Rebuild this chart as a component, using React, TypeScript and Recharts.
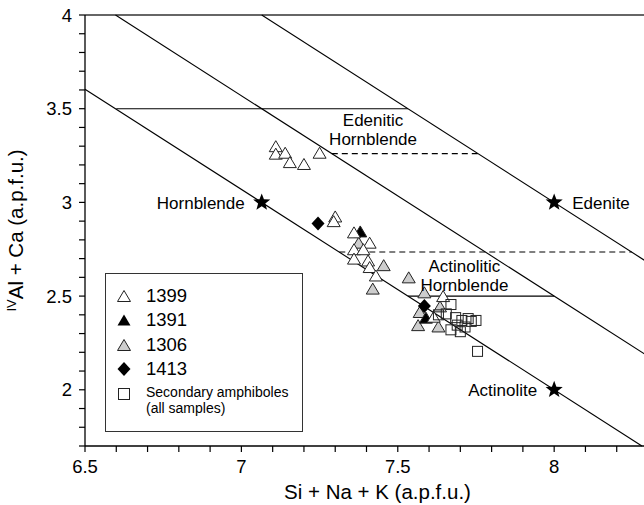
import React from 'react';
import {
  ScatterChart,
  Scatter,
  XAxis,
  YAxis,
  ReferenceLine,
  Legend,
} from 'recharts';

const FONT = '"Liberation Sans", Arial, Helvetica, sans-serif';

// axis ticks (minor every 0.1, labelled every 0.5)
const xTicks = [6.5, 6.6, 6.7, 6.8, 6.9, 7, 7.1, 7.2, 7.3, 7.4, 7.5, 7.6, 7.7, 7.8, 7.9, 8, 8.1, 8.2, 8.3];
const yTicks = [1.7, 1.8, 1.9, 2, 2.1, 2.2, 2.3, 2.4, 2.5, 2.6, 2.7, 2.8, 2.9, 3, 3.1, 3.2, 3.3, 3.4, 3.5, 3.6, 3.7, 3.8, 3.9, 4];

// sample 1399 (open triangles)
const s1399 = [
  [7.11, 3.3], [7.11, 3.26], [7.14, 3.265], [7.155, 3.215], [7.2, 3.205], [7.25, 3.265],
  [7.3, 2.925], [7.295, 2.9], [7.36, 2.84], [7.41, 2.785], [7.36, 2.75], [7.39, 2.75],
  [7.36, 2.7], [7.405, 2.69], [7.41, 2.655], [7.43, 2.61], [7.645, 2.5], [7.615, 2.39],
];
// sample 1391 (black triangles)
const s1391 = [[7.38, 2.845], [7.59, 2.385]];
// sample 1306 (grey triangles)
const s1306 = [
  [7.375, 2.785], [7.455, 2.665], [7.42, 2.54], [7.535, 2.6], [7.585, 2.52],
  [7.57, 2.415], [7.565, 2.345], [7.635, 2.445], [7.63, 2.338],
];
// sample 1413 (diamonds)
const s1413 = [[7.245, 2.887], [7.585, 2.447]];
// secondary amphiboles (squares)
const secondary = [
  [7.67, 2.455], [7.655, 2.405], [7.685, 2.385], [7.705, 2.37], [7.725, 2.38], [7.75, 2.37],
  [7.69, 2.345], [7.715, 2.335], [7.67, 2.32], [7.7, 2.31], [7.735, 2.365], [7.755, 2.205], [7.63, 2.4],
];

// end members
const endMembers = [
  { x: 7.065, y: 3.0, name: 'Hornblende', side: 'left' },
  { x: 8.0, y: 3.0, name: 'Edenite', side: 'right' },
  { x: 8.0, y: 2.0, name: 'Actinolite', side: 'left' },
];

// field names
const fieldNames = [
  { x: 7.421, y: 3.387, lines: ['Edenitic', 'Hornblende'] },
  { x: 7.713, y: 2.611, lines: ['Actinolitic', 'Hornblende'] },
];

// boundary lines [x1, y1, x2, y2]
const diagonals = [
  [6.5, 3.604, 8.2805, 1.7],
  [6.5975, 4.0, 8.3, 2.179],
  [7.065, 4.0, 8.3, 2.679],
];
const solidHorizontals = [
  [6.6, 3.5, 7.5325, 3.5],
  [7.5325, 2.5, 8.0, 2.5],
];
const dashedHorizontals = [
  [7.289, 3.26, 7.757, 3.26],
  [7.313, 2.735, 8.248, 2.735],
];

const toPts = (arr: number[][]) => arr.map(([x, y]) => ({ x, y }));

const triangle = (fill: string) => (props: any) => {
  const { cx, cy } = props;
  if (cx == null || cy == null) return <g />;
  const w = 6.5;
  const h = 11;
  return (
    <path
      d={`M${cx},${cy - h / 2}L${cx + w},${cy + h / 2}L${cx - w},${cy + h / 2}Z`}
      fill={fill}
      stroke='#222'
      strokeWidth={1}
    />
  );
};

const diamond = (props: any) => {
  const { cx, cy } = props;
  if (cx == null || cy == null) return <g />;
  return (
    <path
      d={`M${cx},${cy - 7}L${cx + 6.5},${cy}L${cx},${cy + 7}L${cx - 6.5},${cy}Z`}
      fill='#000'
    />
  );
};

const square = (props: any) => {
  const { cx, cy } = props;
  if (cx == null || cy == null) return <g />;
  return (
    <rect x={cx - 5} y={cy - 5} width={10} height={10} fill='none' stroke='#222' strokeWidth={1} />
  );
};

const starPath = (cx: number, cy: number, ro: number, ri: number) => {
  let d = '';
  for (let i = 0; i < 10; i++) {
    const r = i % 2 === 0 ? ro : ri;
    const a = -Math.PI / 2 + (i * Math.PI) / 5;
    d += `${i === 0 ? 'M' : 'L'}${cx + r * Math.cos(a)},${cy + r * Math.sin(a)}`;
  }
  return d + 'Z';
};

const star = (props: any) => {
  const { cx, cy, payload } = props;
  if (cx == null || cy == null) return <g />;
  const left = payload?.side === 'left';
  return (
    <g>
      <path d={starPath(cx, cy, 9, 3.8)} fill='#000' />
      <text
        x={left ? cx - 17 : cx + 18}
        y={cy}
        dy='0.36em'
        textAnchor={left ? 'end' : 'start'}
        fontSize={17}
        fontFamily={FONT}
        fill='#000'>
        {payload?.name}
      </text>
    </g>
  );
};

const fieldLabel = (props: any) => {
  const { cx, cy, payload } = props;
  if (cx == null || cy == null) return <g />;
  return (
    <text textAnchor='middle' fontSize={17} fontFamily={FONT} fill='#000'>
      <tspan x={cx} y={cy - 9.5} dy='0.36em'>{payload.lines[0]}</tspan>
      <tspan x={cx} y={cy + 9.5} dy='0.36em'>{payload.lines[1]}</tspan>
    </text>
  );
};

const tickFmt = (v: number) => (Math.abs(v * 2 - Math.round(v * 2)) < 1e-6 ? String(Math.round(v * 10) / 10) : '');

const legendRows = [
  { label: '1399', kind: 'open' },
  { label: '1391', kind: 'black' },
  { label: '1306', kind: 'grey' },
  { label: '1413', kind: 'diamond' },
];

const LegendIcon = ({ kind }: { kind: string }) => {
  let el: React.ReactNode = null;
  if (kind === 'open') el = <path d='M8,2.5L14.5,13.5L1.5,13.5Z' fill='#fff' stroke='#222' strokeWidth={1} />;
  if (kind === 'black') el = <path d='M8,2.5L14.5,13.5L1.5,13.5Z' fill='#000' />;
  if (kind === 'grey') el = <path d='M8,2.5L14.5,13.5L1.5,13.5Z' fill='#cdcdcd' stroke='#222' strokeWidth={1} />;
  if (kind === 'diamond') el = <path d='M8,1L14.5,8L8,15L1.5,8Z' fill='#000' />;
  if (kind === 'square') el = <rect x={2.5} y={2.5} width={11} height={11} fill='#fff' stroke='#222' strokeWidth={1} />;
  return (
    <svg width={16} height={16} style={{ position: 'absolute', left: 10, top: -8 }}>
      {el}
    </svg>
  );
};

const renderLegend = () => (
  <div
    style={{
      position: 'relative',
      width: 198,
      height: 159,
      boxSizing: 'border-box',
      border: '1px solid #333',
      background: '#fff',
      fontFamily: FONT,
      color: '#000',
    }}>
    {legendRows.map((r, i) => (
      <div key={r.label} style={{ position: 'absolute', left: 0, top: 22 + i * 24.4, width: '100%' }}>
        <LegendIcon kind={r.kind} />
        <span style={{ position: 'absolute', left: 40, top: -11, fontSize: 18.5, lineHeight: '22px' }}>{r.label}</span>
      </div>
    ))}
    <div style={{ position: 'absolute', left: 0, top: 120, width: '100%' }}>
      <LegendIcon kind='square' />
      <span style={{ position: 'absolute', left: 40, top: -9, fontSize: 14, lineHeight: '15.6px', whiteSpace: 'nowrap' }}>
        Secondary amphiboles
        <br />
        (all samples)
      </span>
    </div>
  </div>
);

const seg = (s: number[]) => [
  { x: s[0], y: s[1] },
  { x: s[2], y: s[3] },
];

export default function App() {
  return (
    <div style={{ position: 'absolute', left: 0, top: 0, width: 644, height: 505, overflow: 'hidden', background: '#fff' }}>
      <ScatterChart
        width={648}
        height={505}
        margin={{ top: 15, right: 0, bottom: 0, left: 0 }}>
        <XAxis
          type='number'
          dataKey='x'
          domain={[6.5, 8.3]}
          ticks={xTicks}
          interval={0}
          tickFormatter={tickFmt}
          height={59}
          tickSize={6}
          tickMargin={8}
          axisLine={{ stroke: '#000', strokeWidth: 1.3 }}
          tickLine={{ stroke: '#000', strokeWidth: 1.2 }}
          tick={{ fontSize: 18.5, fill: '#000', fontFamily: FONT }}
          label={{
            content: (p: any) => {
              const vb = p.viewBox || { x: 85, y: 446, width: 563, height: 59 };
              return (
                <text
                  x={vb.x + vb.width / 2 + 11}
                  y={vb.y + vb.height - 6}
                  textAnchor='middle'
                  fontSize={20.5}
                  fontFamily={FONT}
                  fill='#000'>
                  Si + Na + K (a.p.f.u.)
                </text>
              );
            },
          }}
        />
        <YAxis
          type='number'
          dataKey='y'
          domain={[1.7, 4]}
          ticks={yTicks}
          interval={0}
          tickFormatter={tickFmt}
          width={85}
          tickSize={6}
          tickMargin={7}
          axisLine={{ stroke: '#000', strokeWidth: 1.3 }}
          tickLine={{ stroke: '#000', strokeWidth: 1.2 }}
          tick={{ fontSize: 18.5, fill: '#000', fontFamily: FONT }}
          label={{
            content: (p: any) => {
              const vb = p.viewBox || { x: 0, y: 15, width: 85, height: 431 };
              return (
                <text
                  transform={`translate(23, ${vb.y + vb.height / 2}) rotate(-90)`}
                  textAnchor='middle'
                  fontSize={20.5}
                  fontFamily={FONT}
                  fill='#000'>
                  <tspan fontSize={13} dy={-7}>IV</tspan>
                  <tspan dy={7}>Al + Ca (a.p.f.u.)</tspan>
                </text>
              );
            },
          }}
        />
        <ReferenceLine y={4} stroke='#333' strokeWidth={1.5} />
        {diagonals.map((s, i) => (
          <ReferenceLine key={`d${i}`} segment={seg(s)} stroke='#000' strokeWidth={1.1} />
        ))}
        {solidHorizontals.map((s, i) => (
          <ReferenceLine key={`h${i}`} segment={seg(s)} stroke='#000' strokeWidth={1.1} />
        ))}
        {dashedHorizontals.map((s, i) => (
          <ReferenceLine key={`dh${i}`} segment={seg(s)} stroke='#000' strokeWidth={1.1} strokeDasharray='6 4' />
        ))}
        <Scatter name='1306' data={toPts(s1306)} shape={triangle('#cdcdcd')} isAnimationActive={false} />
        <Scatter name='1391' data={toPts(s1391)} shape={triangle('#000')} isAnimationActive={false} />
        <Scatter name='1399' data={toPts(s1399)} shape={triangle('#fff')} isAnimationActive={false} />
        <Scatter name='1413' data={toPts(s1413)} shape={diamond} isAnimationActive={false} />
        <Scatter name='Secondary' data={toPts(secondary)} shape={square} isAnimationActive={false} />
        <Scatter name='end members' data={endMembers} shape={star} isAnimationActive={false} />
        <Scatter name='fields' data={fieldNames} shape={fieldLabel} isAnimationActive={false} />
        <Legend
          layout='vertical'
          align='center'
          verticalAlign='middle'
          content={renderLegend}
          wrapperStyle={{ left: 105, top: 273, width: 198, height: 159 }}
        />
      </ScatterChart>
    </div>
  );
}
